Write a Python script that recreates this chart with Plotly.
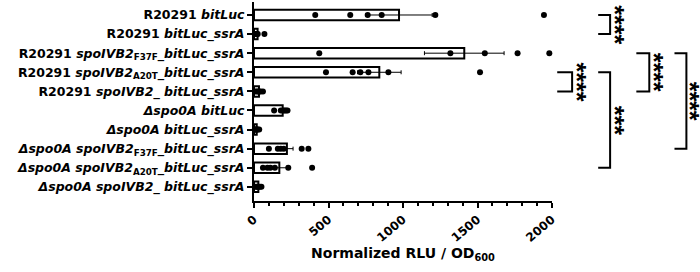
import numpy as np
import plotly.graph_objects as go

categories = [
    "R20291 <i>bitLuc</i>",
    "R20291 <i>bitLuc_ssrA</i>",
    "R20291 <i>spoIVB2</i><sub>F37F</sub><i>_bitLuc_ssrA</i>",
    "R20291 <i>spoIVB2</i><sub>A20T</sub><i>_bitLuc_ssrA</i>",
    "R20291 <i>spoIVB2_ bitLuc_ssrA</i>",
    "<i>Δspo0A bitLuc</i>",
    "<i>Δspo0A bitLuc_ssrA</i>",
    "<i>Δspo0A spoIVB2</i><sub>F37F</sub><i>_bitLuc_ssrA</i>",
    "<i>Δspo0A spoIVB2</i><sub>A20T</sub><i>_bitLuc_ssrA</i>",
    "<i>Δspo0A spoIVB2_ bitLuc_ssrA</i>",
]

replicates = [
    [411, 646, 763, 857, 1217, 1946],
    [5, 10, 15, 20, 25, 70],
    [438, 1318, 1549, 1769, 1982],
    [483, 662, 714, 768, 902, 1517],
    [10, 20, 30, 35, 45, 60],
    [135, 180, 195, 205, 215, 225],
    [5, 10, 15, 20, 25, 35],
    [100, 160, 180, 200, 320, 365],
    [60, 90, 110, 140, 230, 390],
    [10, 20, 25, 30, 40, 50],
]

x_ticks = [0, 500, 1000, 1500, 2000]
x_title = "Normalized RLU / OD<sub>600</sub>"

# significance comparisons: (row a, row b, arm start, vertical x, label x, label)
comparisons = [
    (0, 1, 2310, 2390, 2425, "****"),
    (3, 4, 2035, 2135, 2170, "****"),
    (3, 8, 2310, 2390, 2425, "***"),
    (2, 4, 2566, 2653, 2682, "****"),
    (2, 7, 2822, 2902, 2928, "****"),
]

XMAX = 2000
Y_TOP, Y_BOT = -0.68, 9.74

pos = list(range(len(categories)))
means = [float(np.mean(v)) for v in replicates]
sems = [float(np.std(v, ddof=1) / np.sqrt(len(v))) for v in replicates]

font_family = "DejaVu Sans, Liberation Sans, Arial, sans-serif"

fig = go.Figure()
fig.add_trace(go.Bar(
    x=means, y=pos, orientation="h", width=0.55,
    marker=dict(color="white", line=dict(color="black", width=2)),
    error_x=dict(type="data", array=sems, symmetric=True, color="black",
                 thickness=1, width=2),
    showlegend=False,
))

px_all, py_all = [], []
for i, vals in enumerate(replicates):
    for v in vals:
        px_all.append(v)
        py_all.append(i)
fig.add_trace(go.Scatter(
    x=px_all, y=py_all, mode="markers",
    marker=dict(color="black", size=6, line=dict(width=0)),
    showlegend=False, cliponaxis=False,
))

def row_paper(r):
    return (Y_BOT - r) / (Y_BOT - Y_TOP)

shapes = []
annotations = []
for a, b, xs, xv, xl, lab in comparisons:
    ya, yb = row_paper(a), row_paper(b)
    xs_p, xv_p = xs / XMAX, xv / XMAX
    shapes.append(dict(
        type="path", xref="paper", yref="paper",
        path=f"M {xs_p} {ya} L {xv_p} {ya} L {xv_p} {yb} L {xs_p} {yb}",
        line=dict(color="black", width=2),
    ))
    annotations.append(dict(
        x=xl / XMAX, y=(ya + yb) / 2, xref="paper", yref="paper",
        text=lab, showarrow=False, textangle=90,
        font=dict(family="Liberation Sans, Arial, sans-serif", size=25,
                  color="black", weight="bold"),
        xanchor="center", yanchor="middle",
    ))

fig.update_layout(
    width=700, height=272,
    margin=dict(l=254, r=148, t=2, b=71),
    plot_bgcolor="white", paper_bgcolor="white",
    font=dict(family=font_family, color="black"),
    shapes=shapes, annotations=annotations,
    bargap=0.45,
)
fig.update_xaxes(
    range=[0, XMAX], tickvals=x_ticks, ticktext=[str(t) for t in x_ticks],
    tickangle=-40, ticks="outside", ticklen=5, tickwidth=2, tickcolor="black",
    showline=True, linecolor="black", linewidth=2, showgrid=False, zeroline=False,
    automargin=False,
    tickfont=dict(family=font_family, size=12, color="black", weight="bold"),
    minor=dict(dtick=100, ticks="outside", ticklen=3, tickwidth=2, tickcolor="black"),
    title=dict(text=x_title, standoff=0,
               font=dict(family=font_family, size=14, color="black", weight="bold")),
)
fig.update_yaxes(
    range=[Y_BOT, Y_TOP], tickvals=pos, ticktext=categories,
    ticks="outside", ticklen=5, tickwidth=2, tickcolor="black",
    showline=True, linecolor="black", linewidth=2, showgrid=False, zeroline=False,
    automargin=False,
    tickfont=dict(family=font_family, size=12.5, color="black", weight="bold"),
)

fig.write_html("out.html", config={"displayModeBar": False},
               post_script="document.body.style.margin='0';")
